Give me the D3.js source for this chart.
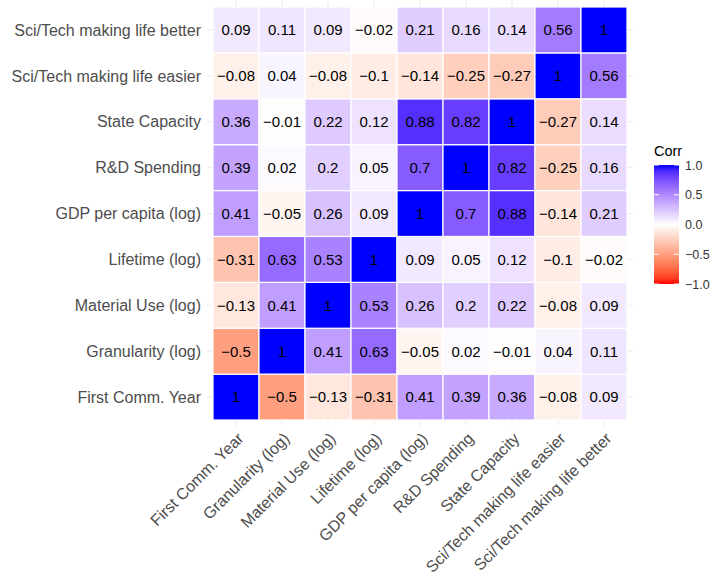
<!DOCTYPE html>
<html>
<head>
<meta charset="utf-8">
<script src="https://cdn.jsdelivr.net/npm/d3@7"></script>
<style>
  body { margin: 0; background: #fff; }
  svg { font-family: "Liberation Sans", Arial, Helvetica, sans-serif; }
</style>
</head>
<body>
<div id="chart"></div>
<script>
// Variable names, in plot order (x left to right, y bottom to top)
const variables = [
    "First Comm. Year",
    "Granularity (log)",
    "Material Use (log)",
    "Lifetime (log)",
    "GDP per capita (log)",
    "R&D Spending",
    "State Capacity",
    "Sci/Tech making life easier",
    "Sci/Tech making life better"
];

// Correlation matrix, one row per variable (same order as above)
const corrFirstYear   = [1, -0.5, -0.13, -0.31, 0.41, 0.39, 0.36, -0.08, 0.09];
const corrGranularity = [-0.5, 1, 0.41, 0.63, -0.05, 0.02, -0.01, 0.04, 0.11];
const corrMaterial    = [-0.13, 0.41, 1, 0.53, 0.26, 0.2, 0.22, -0.08, 0.09];
const corrLifetime    = [-0.31, 0.63, 0.53, 1, 0.09, 0.05, 0.12, -0.1, -0.02];
const corrGDP         = [0.41, -0.05, 0.26, 0.09, 1, 0.7, 0.88, -0.14, 0.21];
const corrRD          = [0.39, 0.02, 0.2, 0.05, 0.7, 1, 0.82, -0.25, 0.16];
const corrState       = [0.36, -0.01, 0.22, 0.12, 0.88, 0.82, 1, -0.27, 0.14];
const corrEasier      = [-0.08, 0.04, -0.08, -0.1, -0.14, -0.25, -0.27, 1, 0.56];
const corrBetter      = [0.09, 0.11, 0.09, -0.02, 0.21, 0.16, 0.14, 0.56, 1];

const corrRows = [corrFirstYear, corrGranularity, corrMaterial, corrLifetime,
    corrGDP, corrRD, corrState, corrEasier, corrBetter];

const legendTicks = [1.0, 0.5, 0.0, -0.5, -1.0];

const width = 711;
const height = 579;

// Tile area
const plotLeft = 213, plotRight = 627, plotTop = 7, plotBottom = 420;

const svg = d3.select("#chart")
    .append("svg")
    .attr("width", width)
    .attr("height", height);

const x = d3.scaleBand().domain(variables).range([plotLeft, plotRight]);
const y = d3.scaleBand().domain(variables).range([plotBottom, plotTop]);

// red - white - blue, interpolated in Lab like ggplot's gradient2
const color = d3.scaleLinear()
    .domain([-1, 0, 1])
    .range(["#FF0000", "#FFFFFF", "#0000FF"])
    .interpolate(d3.interpolateLab);

const fmt = v => {
    const s = String(Math.round(v * 100) / 100);
    return s.replace("-", "\u2212");
};

// Flatten into cells
const cells = [];
corrRows.forEach((row, i) => {
    row.forEach((v, j) => {
        cells.push({ yVar: variables[i], xVar: variables[j], value: v });
    });
});

// Panel grid lines (only visible in the small margin around the tiles)
const grid = svg.append("g")
    .attr("stroke", "#ebebeb")
    .attr("stroke-width", 1);

grid.selectAll("line.v")
    .data(variables)
    .enter()
    .append("line")
    .attr("x1", d => x(d) + x.bandwidth() / 2)
    .attr("x2", d => x(d) + x.bandwidth() / 2)
    .attr("y1", 0)
    .attr("y2", plotBottom + 6);

grid.selectAll("line.h")
    .data(variables)
    .enter()
    .append("line")
    .attr("x1", plotLeft - 6)
    .attr("x2", plotRight + 6)
    .attr("y1", d => y(d) + y.bandwidth() / 2)
    .attr("y2", d => y(d) + y.bandwidth() / 2);

// Tiles
svg.append("g")
    .selectAll("rect")
    .data(cells)
    .enter()
    .append("rect")
    .attr("x", d => x(d.xVar))
    .attr("y", d => y(d.yVar))
    .attr("width", x.bandwidth())
    .attr("height", y.bandwidth())
    .attr("fill", d => color(d.value))
    .attr("stroke", "#fff")
    .attr("stroke-width", 1.2);

// Cell labels
svg.append("g")
    .selectAll("text")
    .data(cells)
    .enter()
    .append("text")
    .attr("x", d => x(d.xVar) + x.bandwidth() / 2)
    .attr("y", d => y(d.yVar) + y.bandwidth() / 2)
    .attr("text-anchor", "middle")
    .attr("dy", "0.36em")
    .attr("font-size", 15)
    .attr("fill", "#000")
    .text(d => fmt(d.value));

// Y axis labels
svg.append("g")
    .selectAll("text")
    .data(variables)
    .enter()
    .append("text")
    .attr("x", plotLeft - 12)
    .attr("y", d => y(d) + y.bandwidth() / 2)
    .attr("text-anchor", "end")
    .attr("dy", "0.36em")
    .attr("font-size", 16)
    .attr("fill", "#4d4d4d")
    .text(d => d);

// X axis labels, rotated 45 degrees
svg.append("g")
    .selectAll("text")
    .data(variables)
    .enter()
    .append("text")
    .attr("transform", d => `translate(${x(d) + x.bandwidth() / 2},${plotBottom + 11}) rotate(-45)`)
    .attr("text-anchor", "end")
    .attr("dy", "0.75em")
    .attr("font-size", 16)
    .attr("fill", "#4d4d4d")
    .text(d => d);

// Legend
const legX = 654, legTop = 165, legBottom = 284, legW = 25;
const legY = d3.scaleLinear().domain([-1, 1]).range([legBottom, legTop]);

const defs = svg.append("defs");
const grad = defs.append("linearGradient")
    .attr("id", "corrGrad")
    .attr("x1", 0).attr("y1", 1)
    .attr("x2", 0).attr("y2", 0);
d3.range(0, 1.0001, 0.05).forEach(t => {
    grad.append("stop")
        .attr("offset", t)
        .attr("stop-color", color(-1 + 2 * t));
});

svg.append("text")
    .attr("x", legX)
    .attr("y", 156)
    .attr("font-size", 14.5)
    .attr("fill", "#000")
    .text("Corr");

svg.append("rect")
    .attr("x", legX)
    .attr("y", legTop)
    .attr("width", legW)
    .attr("height", legBottom - legTop)
    .attr("fill", "url(#corrGrad)");

// white tick marks on the colour bar
const legTickG = svg.append("g")
    .attr("stroke", "#fff")
    .attr("stroke-width", 1);
legendTicks.forEach(t => {
    legTickG.append("line")
        .attr("x1", legX).attr("x2", legX + 5)
        .attr("y1", legY(t)).attr("y2", legY(t));
    legTickG.append("line")
        .attr("x1", legX + legW - 5).attr("x2", legX + legW)
        .attr("y1", legY(t)).attr("y2", legY(t));
});

svg.append("g")
    .selectAll("text")
    .data(legendTicks)
    .enter()
    .append("text")
    .attr("x", legX + legW + 6)
    .attr("y", d => legY(d))
    .attr("dy", "0.36em")
    .attr("font-size", 12.5)
    .attr("fill", "#333")
    .text(d => d3.format(".1f")(d).replace("-", "\u2212"));
</script>
</body>
</html>
